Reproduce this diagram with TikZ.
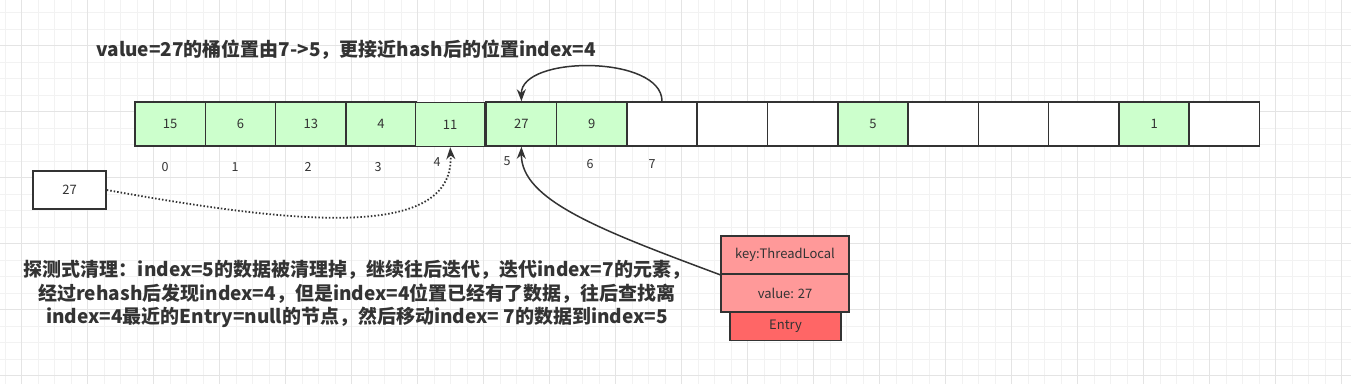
\documentclass[tikz,border=0pt]{standalone}
\usepackage{fontspec}
\setmainfont{Noto Sans CJK SC}
\usetikzlibrary{arrows.meta}
\definecolor{cellgreen}{HTML}{CCFFCC}
\definecolor{linegray}{HTML}{333333}
\definecolor{keyred}{HTML}{FF9999}
\definecolor{entryred}{HTML}{FF6666}
\definecolor{gridminor}{HTML}{F2F2F2}
\definecolor{gridmajor}{HTML}{E4E4E4}
\begin{document}
\begin{tikzpicture}[x=1pt,y=-1pt,
  cellbox/.style={draw=linegray,line width=1.6pt,minimum width=70.3pt,minimum height=44pt,inner sep=0pt,text=linegray,font=\fontsize{13}{15}\selectfont},
  fullcell/.style={cellbox,fill=cellgreen},
  emptycell/.style={cellbox,fill=white},
  idx/.style={text=linegray,font=\fontsize{12.5}{14}\selectfont,inner sep=0pt},
  redbox/.style={draw=linegray,line width=1.6pt,inner sep=0pt,text=linegray,font=\fontsize{13}{15}\selectfont},
  arr/.style={draw=linegray,line width=1.5pt,-{Stealth[length=12pt,width=9pt]}},
  bigtext/.style={text=linegray,font=\bfseries\fontsize{19}{23.5}\selectfont,align=center,inner sep=0pt}
]
\useasboundingbox (0,0) rectangle (1351,384);
\fill[white] (0,0) rectangle (1351,384);
% grid
\foreach \i in {0,...,81} \draw[gridminor,line width=0.8pt] ({5.2+16.5*\i},0) -- ({5.2+16.5*\i},384);
\foreach \i in {0,...,23} \draw[gridminor,line width=0.8pt] (0,{12.7+16.5*\i}) -- (1351,{12.7+16.5*\i});
\foreach \i in {0,...,20} \draw[gridmajor,line width=0.8pt] ({21.7+66*\i},0) -- ({21.7+66*\i},384);
\foreach \i in {0,...,5} \draw[gridmajor,line width=0.8pt] (0,{45.7+66*\i}) -- (1351,{45.7+66*\i});

% cells
\node[fullcell] (c0) at (170.2,124) {15};
\node[fullcell] (c1) at (240.5,124) {6};
\node[fullcell] (c2) at (310.8,124) {13};
\node[fullcell] (c3) at (381.1,124) {4};
\node[fullcell,minimum width=69.5pt] (c4) at (450.2,124.5) {11};
\node[fullcell] (c5) at (521.4,124) {27};
\node[fullcell] (c6) at (591.7,124) {9};
\node[emptycell] (c7) at (662,124) {};
\node[emptycell] (c8) at (732.3,124) {};
\node[emptycell] (c9) at (802.6,124) {};
\node[fullcell] (c10) at (872.9,124) {5};
\node[emptycell] (c11) at (943.2,124) {};
\node[emptycell] (c12) at (1013.5,124) {};
\node[emptycell] (c13) at (1083.8,124) {};
\node[fullcell] (c14) at (1154.1,124) {1};
\node[emptycell] (c15) at (1224.4,124) {};

% index labels
\node[idx] (i0) at (165,167) {0};
\node[idx] (i1) at (235,167) {1};
\node[idx] (i2) at (308,167) {2};
\node[idx] (i3) at (378,167) {3};
\node[idx] (i4) at (437,162) {4};
\node[idx] (i5) at (507,161) {5};
\node[idx] (i6) at (590,164) {6};
\node[idx] (i7) at (652,164) {7};

% box 27
\node[draw=linegray,line width=1.6pt,fill=white,minimum width=73pt,minimum height=38pt,inner sep=0pt,text=linegray,font=\fontsize{13}{15}\selectfont] (b27) at (69.5,190) {27};

% entry
\node[redbox,fill=keyred,minimum width=128pt,minimum height=38pt] (key) at (785,255) {key:ThreadLocal};
\node[redbox,fill=keyred,minimum width=128pt,minimum height=38pt] (val) at (785,293) {value: 27};
\node[redbox,fill=entryred,minimum width=111pt,minimum height=28pt] (ent) at (785.5,326.5) {Entry};

% texts
\node[bigtext] (title) at (346,50) {value=27的桶位置由7->5，更接近hash后的位置index=4};
\node[bigtext] (desc) at (357,294) {探测式清理：index=5的数据被清理掉，继续往后迭代，迭代index=7的元素，\\经过rehash后发现index=4，但是index=4位置已经有了数据，往后查找离\\index=4最近的Entry=null的节点，然后移动index= 7的数据到index=5};

% connectors
\draw[arr,dotted,line width=1.8pt] (b27.east) .. controls (300,225) and (455,240) .. (c4.south);
\draw[arr] (key.south west) .. controls (600,230) and (521,200) .. (c5.south);
\draw[arr] (c7.north) .. controls (662,55) and (521,55) .. (c5.north);
\end{tikzpicture}
\end{document}
